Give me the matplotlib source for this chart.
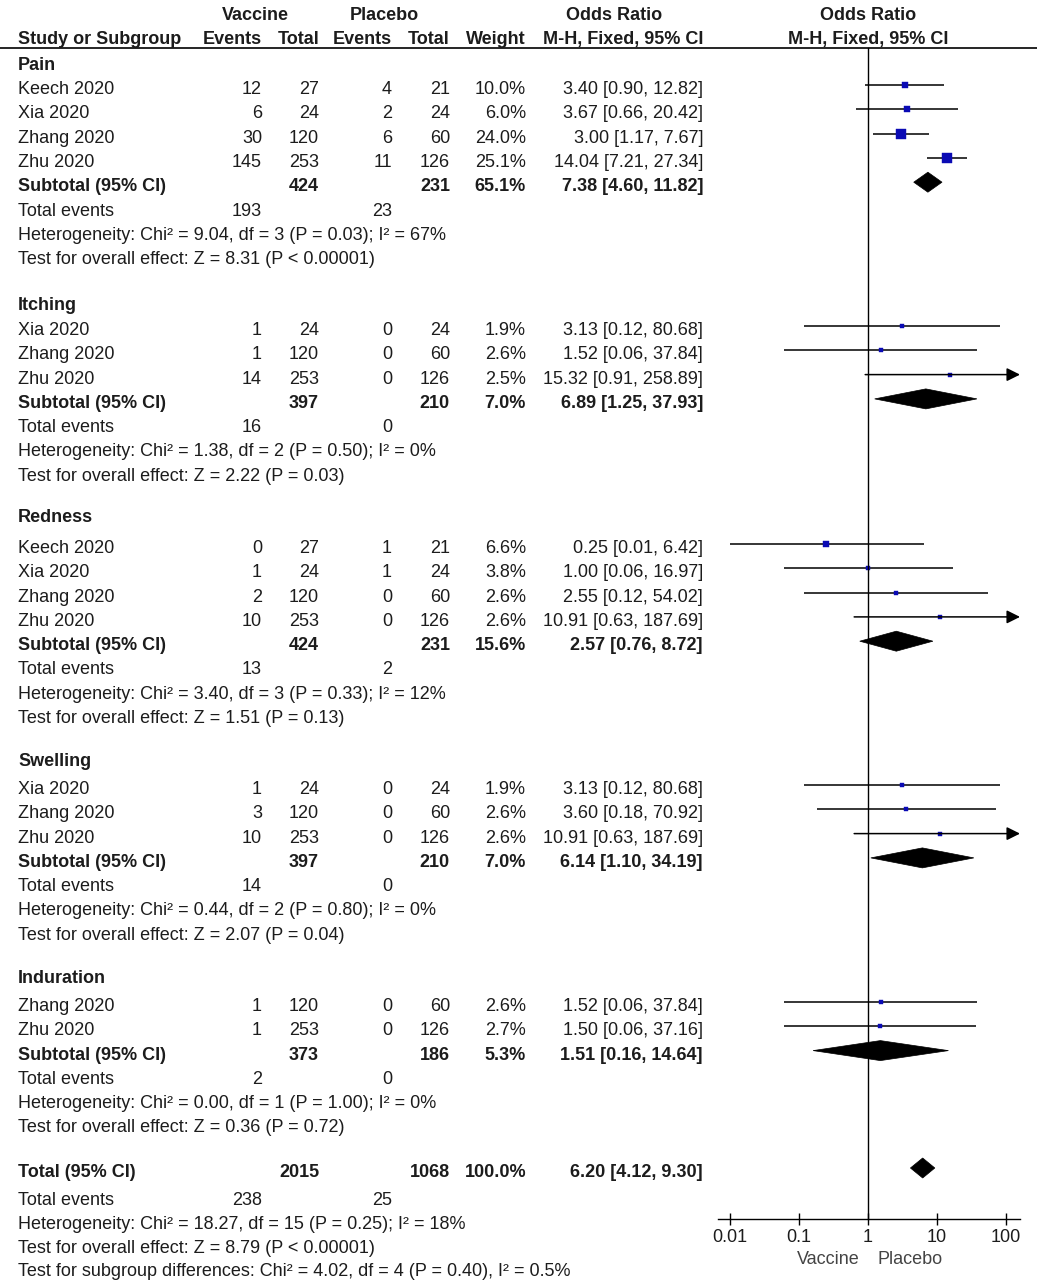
import matplotlib
matplotlib.use('Agg')
import matplotlib.pyplot as plt
import numpy as np
from matplotlib.patches import Polygon
from matplotlib.ticker import NullLocator, FixedLocator

# ---------------- data ----------------
sub_names = ['Pain', 'Itching', 'Redness', 'Swelling', 'Induration']

study_group = [0, 0, 0, 0, 1, 1, 1, 2, 2, 2, 2, 3, 3, 3, 4, 4]
study_names = ['Keech 2020', 'Xia 2020', 'Zhang 2020', 'Zhu 2020',
               'Xia 2020', 'Zhang 2020', 'Zhu 2020',
               'Keech 2020', 'Xia 2020', 'Zhang 2020', 'Zhu 2020',
               'Xia 2020', 'Zhang 2020', 'Zhu 2020',
               'Zhang 2020', 'Zhu 2020']
vac_events = [12, 6, 30, 145, 1, 1, 14, 0, 1, 2, 10, 1, 3, 10, 1, 1]
vac_total = [27, 24, 120, 253, 24, 120, 253, 27, 24, 120, 253, 24, 120, 253, 120, 253]
pla_events = [4, 2, 6, 11, 0, 0, 0, 1, 1, 0, 0, 0, 0, 0, 0, 0]
pla_total = [21, 24, 60, 126, 24, 60, 126, 21, 24, 60, 126, 24, 60, 126, 60, 126]
weights = [10.0, 6.0, 24.0, 25.1, 1.9, 2.6, 2.5, 6.6, 3.8, 2.6, 2.6, 1.9, 2.6, 2.6, 2.6, 2.7]
or_est = [3.40, 3.67, 3.00, 14.04, 3.13, 1.52, 15.32, 0.25, 1.00, 2.55, 10.91, 3.13, 3.60, 10.91, 1.52, 1.50]
or_lo = [0.90, 0.66, 1.17, 7.21, 0.12, 0.06, 0.91, 0.01, 0.06, 0.12, 0.63, 0.12, 0.18, 0.63, 0.06, 0.06]
or_hi = [12.82, 20.42, 7.67, 27.34, 80.68, 37.84, 258.89, 6.42, 16.97, 54.02, 187.69, 80.68, 70.92, 187.69, 37.84, 37.16]

sub_vac_total = [424, 397, 424, 397, 373]
sub_pla_total = [231, 210, 231, 210, 186]
sub_weight = [65.1, 7.0, 15.6, 7.0, 5.3]
sub_est = [7.38, 6.89, 2.57, 6.14, 1.51]
sub_lo = [4.60, 1.25, 0.76, 1.10, 0.16]
sub_hi = [11.82, 37.93, 8.72, 34.19, 14.64]
sub_vac_events = [193, 16, 13, 14, 2]
sub_pla_events = [23, 0, 2, 0, 0]
sub_chi2 = [9.04, 1.38, 3.40, 0.44, 0.00]
sub_df = [3, 2, 3, 2, 1]
sub_p = [0.03, 0.50, 0.33, 0.80, 1.00]
sub_i2 = [67, 0, 12, 0, 0]
sub_z = [8.31, 2.22, 1.51, 2.07, 0.36]
sub_pz = ['P < 0.00001', 'P = 0.03', 'P = 0.13', 'P = 0.04', 'P = 0.72']

tot_vac_total, tot_pla_total, tot_weight = 2015, 1068, 100.0
tot_est, tot_lo, tot_hi = 6.20, 4.12, 9.30
tot_vac_events, tot_pla_events = 238, 25
tot_chi2, tot_df, tot_p, tot_i2 = 18.27, 15, 0.25, 18
tot_z, tot_pz = 8.79, 'P < 0.00001'
diff_chi2, diff_df, diff_p, diff_i2 = 4.02, 4, 0.40, 0.5

tick_vals = [0.01, 0.1, 1, 10, 100]
tick_labels = ['0.01', '0.1', '1', '10', '100']
favours = ['Vaccine', 'Placebo']

# ---------------- layout ----------------
W, H = 1037, 1280
fig = plt.figure(figsize=(W / 100, H / 100), dpi=100)
plt.rcParams['font.family'] = ['Liberation Sans', 'DejaVu Sans']
FS = 13.0
TC = '#1c1c1c'
BLUE = '#0a0ab4'

ax = fig.add_axes([0, 0, 1, 1])
ax.set_xlim(0, W)
ax.set_ylim(H, 0)
ax.axis('off')

X1, X2 = 718, 1020
X0 = 868
DEC = 69.0
axf = fig.add_axes([X1 / W, 0, (X2 - X1) / W, 1])
axf.set_xscale('log')
xmin, xmax = 10 ** ((X1 - X0) / DEC), 10 ** ((X2 - X0) / DEC)
axf.set_xlim(xmin, xmax)
axf.set_ylim(H, 0)
axf.patch.set_visible(False)
for s in ['top', 'left', 'right']:
    axf.spines[s].set_visible(False)
AXIS_Y = 1219
axf.spines['bottom'].set_position(('data', AXIS_Y))
axf.spines['bottom'].set_linewidth(1.0)
axf.xaxis.set_major_locator(FixedLocator(tick_vals))
axf.xaxis.set_minor_locator(NullLocator())
axf.tick_params(axis='x', direction='inout', length=9, width=1.0, labelbottom=False)
axf.set_yticks([])

CAP = 6.0  # half cap height in px for baseline placement
MOFF = -3  # marker offset relative to text centre


def txt(x, y, s, ha='left', bold=False, color=TC, target=None, fs=FS):
    (target or ax).text(x, y + CAP, s, ha=ha, va='baseline', fontsize=fs,
                        fontweight='bold' if bold else 'normal', color=color)


# header
txt(255, 14, 'Vaccine', ha='center', bold=True)
txt(384, 14, 'Placebo', ha='center', bold=True)
txt(614, 14, 'Odds Ratio', ha='center', bold=True)
txt(868, 14, 'Odds Ratio', ha='center', bold=True)
txt(18, 38, 'Study or Subgroup', bold=True)
COLS = [262, 319, 392, 450, 526, 703]
for x, s in zip(COLS, ['Events', 'Total', 'Events', 'Total', 'Weight', 'M-H, Fixed, 95% CI']):
    txt(x, 38, s, ha='right', bold=True)
txt(868, 38, 'M-H, Fixed, 95% CI', ha='center', bold=True)
ax.plot([0, W], [47.5, 47.5], color='black', lw=1.2)

hdr_y = [64, 304, 516, 760, 977]
first_y = [88, 329, 547, 788, 1005]
STEP = 24.3


def diamond(est, lo, hi, y):
    poly = Polygon([(lo, y), (est, y - 10), (hi, y), (est, y + 10)], closed=True,
                   facecolor='black', edgecolor='black', lw=0.5)
    axf.add_patch(poly)


for g, name in enumerate(sub_names):
    txt(18, hdr_y[g], name, bold=True)
    idx = [i for i, gg in enumerate(study_group) if gg == g]
    y = first_y[g]
    for i in idx:
        txt(18, y, study_names[i])
        vals = [str(vac_events[i]), str(vac_total[i]), str(pla_events[i]), str(pla_total[i]),
                f'{weights[i]:.1f}%', f'{or_est[i]:.2f} [{or_lo[i]:.2f}, {or_hi[i]:.2f}]']
        for x, s in zip(COLS, vals):
            txt(x, y, s, ha='right')
        ym = y + MOFF
        lo = max(or_lo[i], xmin)
        if or_hi[i] > xmax:
            axf.annotate('', xy=(xmax, ym), xytext=(lo, ym),
                         arrowprops=dict(arrowstyle='-|>', color='black', lw=1.1,
                                         mutation_scale=20, shrinkA=0, shrinkB=0))
        else:
            axf.plot([lo, or_hi[i]], [ym, ym], color='black', lw=1.1, solid_capstyle='butt')
        side_px = 1.2 + 1.8 * np.sqrt(weights[i])
        axf.plot(or_est[i], ym, marker='s', ms=side_px * 0.72, color=BLUE, mec=BLUE, mew=0.3)
        y += STEP
    # subtotal
    txt(18, y, 'Subtotal (95% CI)', bold=True)
    txt(COLS[1], y, str(sub_vac_total[g]), ha='right', bold=True)
    txt(COLS[3], y, str(sub_pla_total[g]), ha='right', bold=True)
    txt(COLS[4], y, f'{sub_weight[g]:.1f}%', ha='right', bold=True)
    txt(COLS[5], y, f'{sub_est[g]:.2f} [{sub_lo[g]:.2f}, {sub_hi[g]:.2f}]', ha='right', bold=True)
    diamond(sub_est[g], sub_lo[g], sub_hi[g], y + MOFF)
    y += STEP
    txt(18, y, 'Total events')
    txt(COLS[0], y, str(sub_vac_events[g]), ha='right')
    txt(COLS[2], y, str(sub_pla_events[g]), ha='right')
    y += STEP
    txt(18, y, f'Heterogeneity: Chi² = {sub_chi2[g]:.2f}, df = {sub_df[g]} (P = {sub_p[g]:.2f}); I² = {sub_i2[g]}%')
    y += STEP
    txt(18, y, f'Test for overall effect: Z = {sub_z[g]:.2f} ({sub_pz[g]})')

# overall total
yt = 1171
txt(18, yt, 'Total (95% CI)', bold=True)
txt(COLS[1], yt, str(tot_vac_total), ha='right', bold=True)
txt(COLS[3], yt, str(tot_pla_total), ha='right', bold=True)
txt(COLS[4], yt, f'{tot_weight:.1f}%', ha='right', bold=True)
txt(COLS[5], yt, f'{tot_est:.2f} [{tot_lo:.2f}, {tot_hi:.2f}]', ha='right', bold=True)
diamond(tot_est, tot_lo, tot_hi, yt + MOFF)
txt(18, 1199, 'Total events')
txt(COLS[0], 1199, str(tot_vac_events), ha='right')
txt(COLS[2], 1199, str(tot_pla_events), ha='right')
txt(18, 1223, f'Heterogeneity: Chi² = {tot_chi2:.2f}, df = {tot_df} (P = {tot_p:.2f}); I² = {tot_i2}%')
txt(18, 1247, f'Test for overall effect: Z = {tot_z:.2f} ({tot_pz})')
txt(18, 1270, f'Test for subgroup differences: Chi² = {diff_chi2:.2f}, df = {diff_df} (P = {diff_p:.2f}), I² = {diff_i2}%')

# forest vertical line
axf.plot([1, 1], [47.5, AXIS_Y], color='black', lw=1.0)

# tick labels and favours labels
for v, s in zip(tick_vals, tick_labels):
    axf.text(v, 1236 + CAP, s, ha='center', va='baseline', fontsize=FS, color=TC)
txt(828, 1258, favours[0], ha='center', color='#444444')
txt(910, 1258, favours[1], ha='center', color='#444444')

fig.savefig('out.png', dpi=100)
